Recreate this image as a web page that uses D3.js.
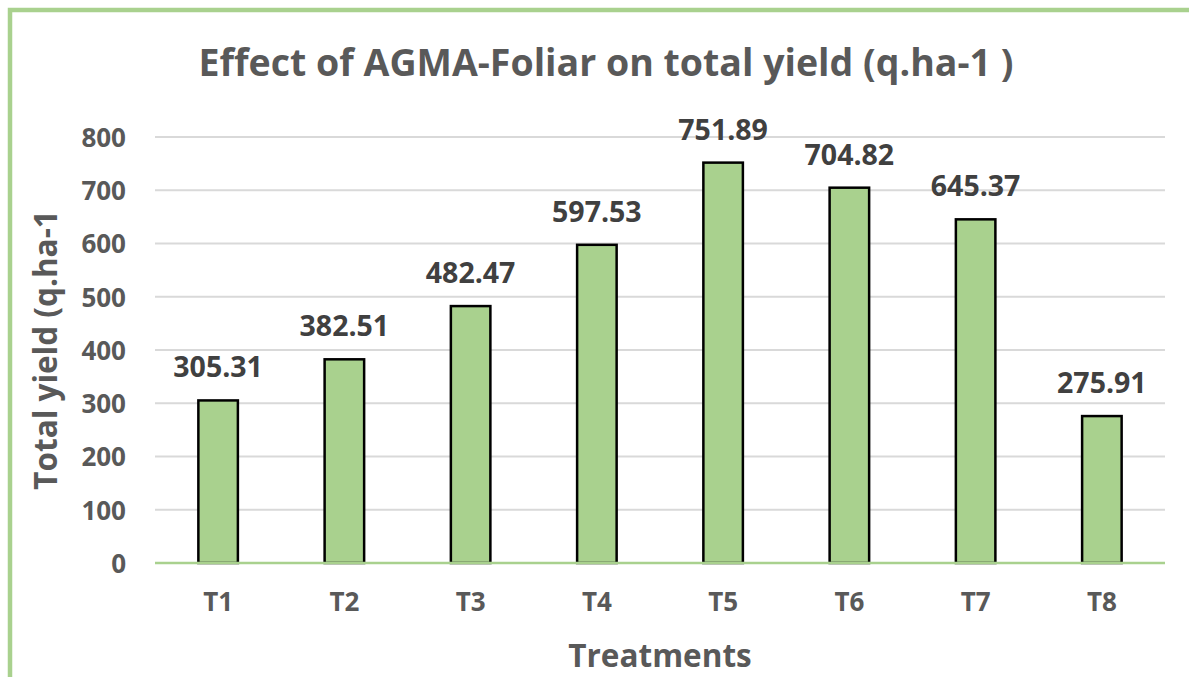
<!DOCTYPE html>
<html>
<head>
<meta charset="utf-8">
<script src="https://cdn.jsdelivr.net/npm/d3@7"></script>
<style>
  body { margin: 0; background: #fff; }
  text { font-family: "Open Sans", sans-serif; font-weight: bold; }
</style>
</head>
<body>
<svg id="chart"></svg>
<script>
// Chart data
const treatments = ["T1", "T2", "T3", "T4", "T5", "T6", "T7", "T8"];
const totalYield = [305.31, 382.51, 482.47, 597.53, 751.89, 704.82, 645.37, 275.91];
const yTicks = [0, 100, 200, 300, 400, 500, 600, 700, 800];

const W = 1189, H = 677;
const margin = {top: 137, right: 24, bottom: 114, left: 155},
    width = W - margin.left - margin.right,
    height = H - margin.top - margin.bottom;

const green = "#a9d18e";
const textGrey = "#595959";

const svg = d3.select("#chart")
    .attr("width", W)
    .attr("height", H);

// Outer chart border (runs off the right and bottom edges)
svg.append("rect")
    .attr("x", 10)
    .attr("y", 10)
    .attr("width", W + 20)
    .attr("height", H + 20)
    .attr("fill", "#fff")
    .attr("stroke", green)
    .attr("stroke-width", 4.5);

// Title
svg.append("text")
    .attr("x", 606)
    .attr("y", 76)
    .attr("text-anchor", "middle")
    .attr("fill", textGrey)
    .style("font-size", "37.5px")
    .text("Effect of AGMA-Foliar on total yield (q.ha-1 )");

const g = svg.append("g")
    .attr("transform", "translate(" + margin.left + "," + margin.top + ")");

// Scales
const x = d3.scaleBand()
    .domain(treatments)
    .range([0, width])
    .paddingInner(0.687)
    .paddingOuter(0.3435);

const y = d3.scaleLinear()
    .domain([0, 800])
    .range([height, 0]);

// Gridlines
g.append("g")
    .selectAll("line")
    .data(yTicks.filter(d => d > 0))
    .join("line")
    .attr("x1", 0)
    .attr("x2", width)
    .attr("y1", d => y(d))
    .attr("y2", d => y(d))
    .attr("stroke", "#d9d9d9")
    .attr("stroke-width", 2);

// Y axis labels
const yAxis = g.append("g")
    .call(d3.axisLeft(y).tickValues(yTicks).tickSize(0).tickPadding(29));
yAxis.select(".domain").remove();
yAxis.selectAll("text")
    .attr("fill", textGrey)
    .attr("dy", "0.36em")
    .style("font-size", "26px")
    .style("font-family", "'Open Sans', sans-serif");

// Bars
g.selectAll(".bar")
    .data(totalYield)
    .join("rect")
    .attr("class", "bar")
    .attr("x", (d, i) => x(treatments[i]))
    .attr("y", d => y(d))
    .attr("width", x.bandwidth())
    .attr("height", d => height - y(d))
    .attr("fill", green)
    .attr("stroke", "#000")
    .attr("stroke-width", 2.5);

// Baseline drawn over the bar bottoms
g.append("line")
    .attr("x1", 0)
    .attr("x2", width)
    .attr("y1", y(0))
    .attr("y2", y(0))
    .attr("stroke", green)
    .attr("stroke-width", 2.5);

// Value labels
g.selectAll(".value")
    .data(totalYield)
    .join("text")
    .attr("class", "value")
    .attr("x", (d, i) => x(treatments[i]) + x.bandwidth() / 2)
    .attr("y", d => y(d) - 23)
    .attr("text-anchor", "middle")
    .attr("fill", "#404040")
    .style("font-size", "28.5px")
    .text(d => d.toFixed(2));

// X axis labels
const xAxis = g.append("g")
    .attr("transform", "translate(0," + height + ")")
    .call(d3.axisBottom(x).tickSize(0).tickPadding(30));
xAxis.select(".domain").remove();
xAxis.selectAll("text")
    .attr("fill", textGrey)
    .attr("dy", "0.71em")
    .style("font-size", "26px")
    .style("font-family", "'Open Sans', sans-serif");

// Axis titles
svg.append("text")
    .attr("x", margin.left + width / 2)
    .attr("y", 667)
    .attr("text-anchor", "middle")
    .attr("fill", textGrey)
    .style("font-size", "31.5px")
    .text("Treatments");

svg.append("text")
    .attr("transform", "translate(57," + (margin.top + height / 2) + ") rotate(-90)")
    .attr("text-anchor", "middle")
    .attr("fill", textGrey)
    .style("font-size", "31.5px")
    .text("Total yield (q.ha-1");
</script>
</body>
</html>
